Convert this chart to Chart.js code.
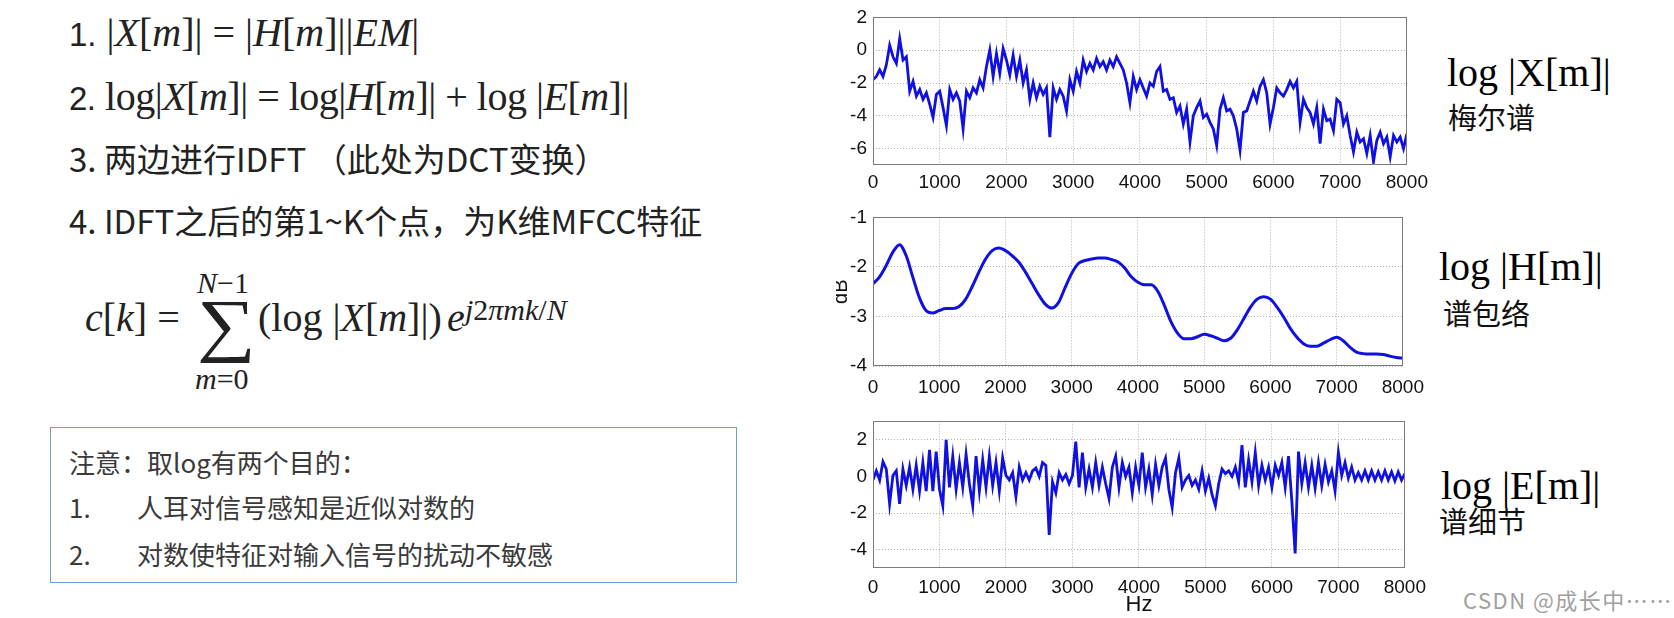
<!DOCTYPE html>
<html lang="zh">
<head>
<meta charset="UTF-8" />
<title>MFCC 倒谱分析</title>
<script src="https://cdn.jsdelivr.net/npm/chart.js"></script>
<style>
  body { margin: 0; width: 1674px; height: 618px; background: #fff; position: relative; overflow: hidden;
         font-family: "Noto Sans CJK SC", sans-serif; color: #222; }
  .abs { position: absolute; white-space: nowrap; line-height: 1; }
  .ser { font-family: "Liberation Serif", serif; }
  .num { font-family: "Liberation Sans", sans-serif; }
  .box { position: absolute; left: 50px; top: 427px; width: 685px; height: 154px; border: 1.5px solid #6a9fd6; }
  .note { font-size: 26px; color: #3a3a3a; }
  .lbl { font-family: "Liberation Serif", serif; font-size: 40px; color: #000; }
  .sub { font-size: 29px; color: #111; }
</style>
</head>
<body>
  <!-- left: formulas -->
  <div class="abs ser" style="left:69px;top:13px;font-size:40px;"><span class="num" style="font-size:33px">1.</span> |<i>X</i>[<i>m</i>]| = |<i>H</i>[<i>m</i>]||<i>EM</i>|</div>
  <div class="abs ser" style="left:69px;top:77px;font-size:40px;letter-spacing:-0.5px;"><span class="num" style="font-size:33px">2.</span> log|<i>X</i>[<i>m</i>]| = log|<i>H</i>[<i>m</i>]| + log |<i>E</i>[<i>m</i>]|</div>
  <div class="abs" style="left:69px;top:142px;font-size:33px;">3. 两边进行IDFT （此处为DCT变换）</div>
  <div class="abs" style="left:69px;top:204px;font-size:33px;">4. IDFT之后的第1~K个点，为K维MFCC特征</div>

  <div class="abs ser" style="left:85px;top:298px;font-size:40px;"><i>c</i>[<i>k</i>] =</div>
  <div class="abs ser" style="left:197px;top:290px;font-size:70px;transform:scaleX(1.18);transform-origin:0 0;">∑</div>
  <div class="abs ser" style="left:197px;top:268px;font-size:30px;"><i>N</i>−1</div>
  <div class="abs ser" style="left:195px;top:364px;font-size:30px;"><i>m</i>=0</div>
  <div class="abs ser" style="left:258px;top:298px;font-size:40px;">(log |<i>X</i>[<i>m</i>]|)</div>
  <div class="abs ser" style="left:447px;top:298px;font-size:40px;"><i>e</i></div>
  <div class="abs ser" style="left:465px;top:295px;font-size:30px;"><i>j</i>2<i>πmk</i>/<i>N</i></div>

  <!-- left: note box -->
  <div class="box"></div>
  <div class="abs note" style="left:69px;top:449px;">注意：取log有两个目的：</div>
  <div class="abs note" style="left:69px;top:494px;">1.</div>
  <div class="abs note" style="left:137px;top:494px;">人耳对信号感知是近似对数的</div>
  <div class="abs note" style="left:69px;top:541px;">2.</div>
  <div class="abs note" style="left:137px;top:541px;">对数使特征对输入信号的扰动不敏感</div>

  <!-- charts -->
  <div class="abs" style="left:820px;top:0;"><canvas id="cX" width="614" height="200"></canvas></div>
  <div class="abs" style="left:836px;top:200px;width:598px;height:204px;overflow:hidden;">
    <canvas id="cH" width="605" height="204" style="position:absolute;left:-7px;top:0;"></canvas>
  </div>
  <div class="abs" style="left:820px;top:404px;"><canvas id="cE" width="614" height="214"></canvas></div>

  <!-- right labels -->
  <div class="abs lbl" style="left:1447px;top:53px;">log |X[m]|</div>
  <div class="abs sub" style="left:1448px;top:102px;">梅尔谱</div>
  <div class="abs lbl" style="left:1439px;top:247px;">log |H[m]|</div>
  <div class="abs sub" style="left:1443px;top:298px;">谱包络</div>
  <div class="abs lbl" style="left:1441px;top:466px;">log |E[m]|</div>
  <div class="abs sub" style="left:1439px;top:506px;">谱细节</div>

  <div class="abs" style="left:1463px;top:588px;font-size:22px;letter-spacing:1.5px;color:#a0a0a0;">CSDN @成长中……</div>

<script>
// frequency grids (Hz)
const hz50 = Array.from({ length: 161 }, (_, i) => i * 50);
const hz100 = Array.from({ length: 81 }, (_, i) => i * 100);
const xTicks = [0, 1000, 2000, 3000, 4000, 5000, 6000, 7000, 8000];

// log|X[m]|, 50 Hz steps, one row = 500 Hz
const logX = [
  -1.8, -1.6, -1.2, -1.6, -0.9, 0.3, -0.4, -0.8, 0.7, -0.6,
  -0.4, -2.5, -1.9, -2.8, -2.4, -3.0, -2.6, -3.3, -4.1, -2.7,
  -2.5, -3.5, -4.6, -2.4, -3.0, -2.6, -3.1, -4.8, -2.5, -2.9,
  -2.3, -2.6, -1.8, -2.3, -1.0, 0.0, -1.6, -0.2, -1.4, 0.1,
  -0.6, -1.5, -0.3, -1.6, -0.6, -2.0, -1.2, -3.0, -2.0, -2.9,
  -2.2, -2.7, -2.3, -5.3, -2.3, -3.0, -2.4, -2.8, -3.7, -1.8,
  -2.5, -1.3, -2.0, -0.6, -1.3, -0.8, -1.2, -0.5, -1.0, -0.7,
  -1.2, -0.6, -1.0, -0.4, -0.8, -1.2, -2.0, -3.2, -1.6, -2.4,
  -1.8, -2.3, -2.8, -2.0, -2.2, -1.3, -1.0, -2.5, -2.4, -3.0,
  -2.9, -3.8, -3.4, -4.5, -3.6, -5.6, -4.0, -3.5, -3.1, -4.1,
  -3.9, -4.4, -4.8, -5.8, -3.6, -2.9, -3.7, -3.6, -4.0, -4.8,
  -6.1, -3.8, -3.7, -3.1, -2.5, -3.1, -2.2, -1.8, -2.6, -4.5,
  -3.5, -2.3, -2.6, -2.8, -2.4, -1.9, -2.3, -1.9, -4.4, -3.0,
  -3.5, -3.8, -4.5, -3.5, -5.7, -3.6, -4.3, -4.2, -4.9, -3.0,
  -3.2, -4.5, -4.0, -5.2, -6.2, -5.0, -5.6, -5.4, -6.3, -5.2,
  -6.8, -5.5, -5.0, -5.7, -5.3, -6.5, -5.2, -5.6, -5.3, -6.0,
  -5.1
];

// log|H[m]|, 100 Hz steps, one row = 1000 Hz
const logH = [
  -2.34, -2.2, -1.97, -1.7, -1.55, -1.77, -2.2, -2.62, -2.88, -2.93,
  -2.88, -2.84, -2.84, -2.8, -2.65, -2.39, -2.1, -1.84, -1.67, -1.62,
  -1.67, -1.77, -1.9, -2.1, -2.33, -2.56, -2.75, -2.83, -2.72, -2.42,
  -2.13, -1.93, -1.87, -1.84, -1.82, -1.82, -1.85, -1.9, -2.02, -2.2,
  -2.31, -2.36, -2.36, -2.49, -2.78, -3.11, -3.34, -3.45, -3.45, -3.41,
  -3.36, -3.39, -3.44, -3.49, -3.44, -3.27, -3.04, -2.81, -2.65, -2.6,
  -2.65, -2.81, -3.01, -3.24, -3.42, -3.55, -3.6, -3.6, -3.54, -3.47,
  -3.42, -3.49, -3.62, -3.72, -3.75, -3.76, -3.76, -3.77, -3.8, -3.83,
  -3.84
];

// log|E[m]|, 50 Hz steps, one row = 500 Hz
const logE = [
  -0.2, 0.3, -0.2, 0.8, 0.4, -1.5, 0.05, 0.3, -1.5, 0.4,
  -0.5, 0.5, -0.7, 0.6, -0.8, 0.75, -0.8, 1.45, -0.8, 1.35,
  -0.7, -1.6, 2.0, -0.6, 1.1, -0.7, 0.75, -0.6, 1.2, -0.4,
  -1.6, 1.1, -0.8, 0.9, -0.6, 1.1, -0.5, 0.75, -0.8, 1.0,
  0.05, -0.2, 0.2, -1.1, 0.5, -0.2, 0.2, -0.2, 0.3, 0.45,
  0.0, 0.75, 0.6, -3.2, -0.3, -0.9, 0.2, -0.2, 0.1, -0.4,
  0.05, 1.9, -0.6, 1.3, -0.6, 0.4, -0.6, 0.75, -0.5, 0.5,
  -0.4, -1.2, 0.5, 1.1, -0.6, 0.75, 0.0, 0.5, -0.9, 0.5,
  -0.5, 1.3, -0.6, 0.4, -1.0, 0.65, -0.5, 0.5, 1.0, -0.7,
  -1.7, 0.2, 1.0, -0.6, -0.2, 0.05, -0.5, -0.2, -0.7, 0.3,
  -0.8, -0.1, -1.0, -1.6, -0.4, 0.4, 0.15, 0.3, 0.0, 0.5,
  -0.3, 1.7, -0.6, 0.9, -0.3, 1.3, -0.5, 0.6, -0.2, 0.5,
  -0.6, 0.6, 0.05, 0.75, -0.6, 1.1, -1.35, -4.2, 1.35, -0.4,
  0.75, -0.6, 0.6, -0.65, 0.75, -0.5, 0.65, -0.3, 0.3, -0.8,
  1.3, 0.05, 0.75, -0.1, 0.5, -0.2, 0.2, -0.2, 0.3, -0.2,
  0.3, -0.2, 0.25, -0.2, 0.3, -0.2, 0.25, -0.25, 0.25, -0.2,
  0.15
];

const yTicksX = [-6, -4, -2, 0, 2];
const yTicksH = [-4, -3, -2, -1];
const yTicksE = [-4, -2, 0, 2];

// matlab-style box round the axes
const boxPlugin = {
  id: 'box',
  afterDraw(chart) {
    const a = chart.chartArea, ctx = chart.ctx;
    ctx.save();
    ctx.strokeStyle = '#7a7a7a';
    ctx.lineWidth = 1;
    ctx.strokeRect(Math.round(a.left) + 0.5, Math.round(a.top) + 0.5, Math.round(a.width) - 1, Math.round(a.height) - 1);
    ctx.restore();
  }
};

const tickFont = { family: 'Liberation Sans', size: 19 };

function makeChart(id, xs, ys, o) {
  const ctx = document.getElementById(id).getContext('2d');
  return new Chart(ctx, {
    type: 'line',
    data: {
      datasets: [{
        data: xs.map((x, i) => ({ x: x, y: ys[i] })),
        borderColor: 'rgb(16, 16, 225)',
        borderWidth: o.lw,
        pointRadius: 0,
        tension: o.smooth ? 0.4 : 0,
        cubicInterpolationMode: o.smooth ? 'monotone' : 'default'
      }]
    },
    options: {
      responsive: false,
      animation: false,
      layout: { padding: { top: o.padTop, right: 27, left: 0, bottom: 0 } },
      plugins: { legend: { display: false }, tooltip: { enabled: false } },
      scales: {
        x: {
          type: 'linear', min: 0, max: 8000,
          afterBuildTicks: s => { s.ticks = xTicks.map(v => ({ value: v })); },
          afterFit: s => { s.height = o.xH; },
          grid: { color: '#b0b0b0', lineWidth: 1, drawTicks: false },
          border: { display: false, dash: [1, 2] },
          ticks: { padding: o.xPad, color: '#111', font: tickFont, maxRotation: 0, autoSkip: false, callback: v => String(v) },
          title: o.xTitle ? { display: true, text: o.xTitle, color: '#111', font: { family: 'Liberation Sans', size: 22 }, padding: 0 } : { display: false }
        },
        y: {
          min: o.yMin, max: o.yMax,
          afterBuildTicks: s => { s.ticks = o.yTicks.map(v => ({ value: v })); },
          afterFit: s => { s.width = o.yW; },
          grid: { color: '#b0b0b0', lineWidth: 1, drawTicks: false },
          border: { display: false, dash: [1, 2] },
          ticks: { padding: 6, color: '#111', font: tickFont, callback: v => String(v) },
          title: o.yTitle ? { display: true, text: o.yTitle, color: '#111', font: { family: 'Liberation Sans', size: 20 }, padding: 0 } : { display: false }
        }
      }
    },
    plugins: [boxPlugin]
  });
}

makeChart('cX', hz50, logX, { lw: 2.8, yMin: -7, yMax: 2, yTicks: yTicksX, padTop: 12, xH: 35, xPad: 6, yW: 53 });
makeChart('cH', hz100, logH, { lw: 3, smooth: true, yMin: -4, yMax: -1, yTicks: yTicksH, padTop: 16, xH: 38, xPad: 10, yW: 44, yTitle: 'dB' });
makeChart('cE', hz50, logE, { lw: 2.8, yMin: -5, yMax: 3, yTicks: yTicksE, padTop: 15, xH: 50, xPad: 8, yW: 53, xTitle: 'Hz' });
</script>
</body>
</html>
